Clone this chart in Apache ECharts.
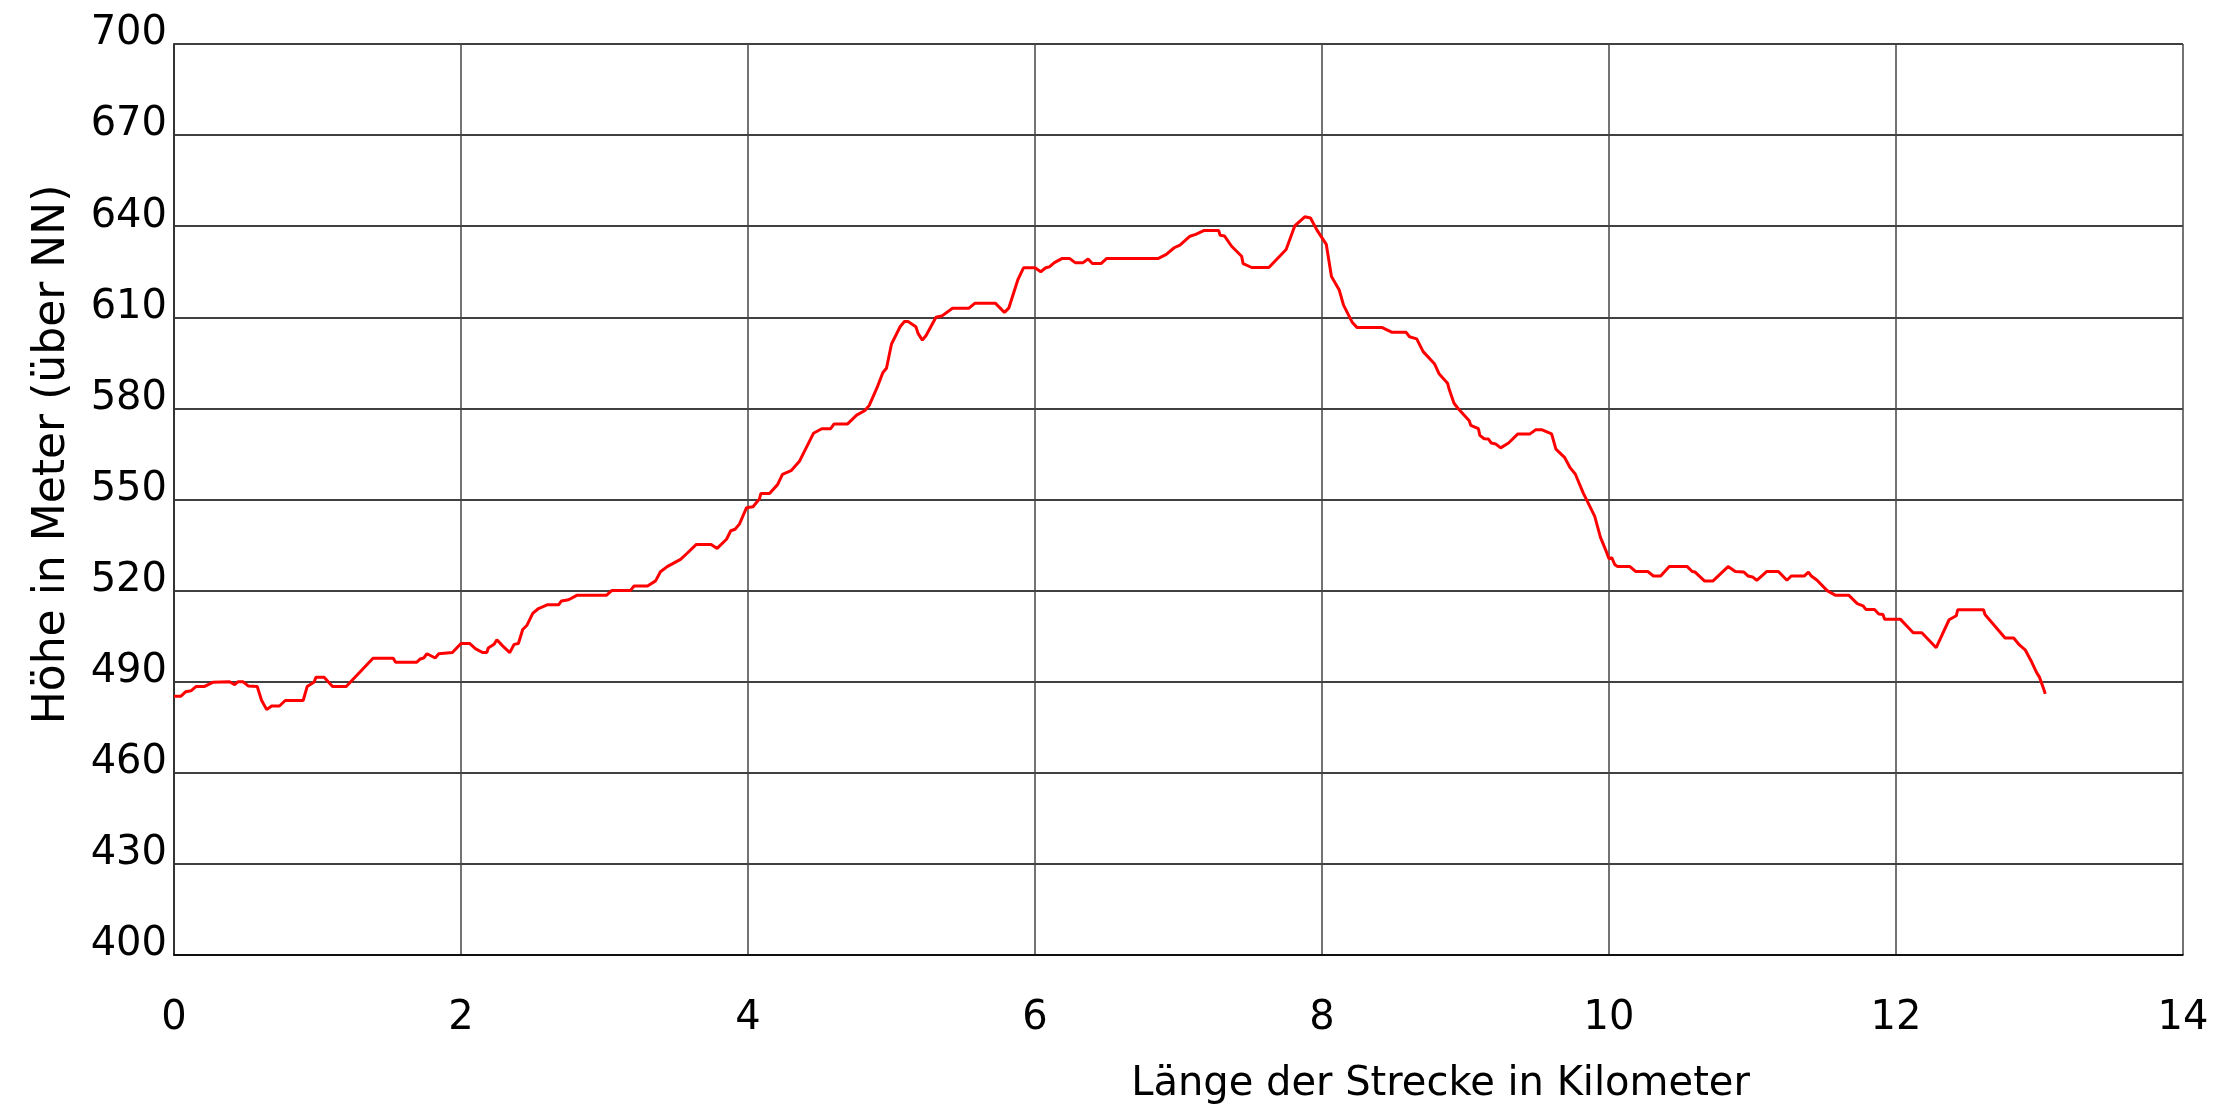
<!DOCTYPE html>
<html>
<head>
<meta charset="utf-8">
<script src="https://cdn.jsdelivr.net/npm/echarts@6/dist/echarts.min.js"></script>
<style>
html,body{margin:0;padding:0;background:#fff;}
#chart{width:2216px;height:1106px;}
</style>
</head>
<body>
<div id="chart"></div>
<script>
// Distance along the route (km) and elevation (m above NN)
const distanceKm = [
  0, 0.047, 0.082, 0.118, 0.153, 0.21, 0.27, 0.388, 0.423, 0.447, 0.48, 0.517, 0.58, 0.61, 0.646, 0.68, 0.735, 0.775, 0.9, 0.928,
  0.975, 0.99, 1.046, 1.105, 1.2, 1.387, 1.528, 1.544, 1.692, 1.716, 1.74, 1.763, 1.82, 1.845, 1.94, 2.0, 2.06, 2.1, 2.15, 2.18,
  2.19, 2.23, 2.25, 2.29, 2.34, 2.37, 2.4, 2.43, 2.46, 2.5, 2.54, 2.6, 2.68, 2.7, 2.75, 2.81, 3.015, 3.05, 3.18, 3.206,
  3.3, 3.356, 3.39, 3.437, 3.53, 3.576, 3.64, 3.743, 3.785, 3.85, 3.88, 3.91, 3.94, 3.99, 4.035, 4.08, 4.09, 4.15, 4.206, 4.24,
  4.3, 4.36, 4.456, 4.514, 4.576, 4.6, 4.694, 4.757, 4.815, 4.845, 4.9, 4.94, 4.965, 5.0, 5.06, 5.09, 5.115, 5.17, 5.185, 5.215,
  5.24, 5.31, 5.35, 5.425, 5.54, 5.58, 5.725, 5.787, 5.817, 5.88, 5.92, 6.0, 6.04, 6.075, 6.1, 6.135, 6.19, 6.24, 6.28, 6.335,
  6.37, 6.4, 6.46, 6.5, 6.86, 6.915, 6.97, 7.01, 7.08, 7.12, 7.18, 7.28, 7.29, 7.32, 7.37, 7.44, 7.45, 7.51, 7.63, 7.75,
  7.81, 7.88, 7.92, 7.965, 8.03, 8.066, 8.12, 8.15, 8.21, 8.245, 8.42, 8.485, 8.585, 8.61, 8.66, 8.705, 8.785, 8.817, 8.875, 8.885,
  8.92, 8.95, 9.026, 9.037, 9.09, 9.1, 9.13, 9.16, 9.18, 9.21, 9.245, 9.3, 9.365, 9.45, 9.49, 9.53, 9.6, 9.63, 9.69, 9.73,
  9.765, 9.82, 9.9, 9.94, 9.98, 10.0, 10.02, 10.04, 10.06, 10.146, 10.185, 10.27, 10.31, 10.36, 10.42, 10.545, 10.58, 10.6, 10.665, 10.725,
  10.83, 10.88, 10.94, 10.97, 11.0, 11.03, 11.1, 11.18, 11.24, 11.27, 11.36, 11.39, 11.41, 11.45, 11.52, 11.576, 11.67, 11.73, 11.77, 11.79,
  11.85, 11.88, 11.91, 11.92, 12.03, 12.12, 12.18, 12.28, 12.37, 12.42, 12.43, 12.61, 12.62, 12.76, 12.82, 12.86, 12.9, 12.94, 12.98, 13.0,
  13.03, 13.04
];
const elevationM = [
  485.2, 485.2, 486.7, 487, 488.4, 488.4, 489.8, 490, 489, 490, 490, 488.6, 488.4, 483.9, 480.8, 482, 482, 483.8, 483.8, 488.4,
  489.8, 491.5, 491.5, 488.4, 488.4, 497.7, 497.7, 496.4, 496.4, 497.5, 497.8, 499.2, 497.8, 499.2, 499.6, 502.6, 502.6, 500.9, 499.6, 499.6,
  501.1, 502.3, 503.8, 501.8, 499.6, 502.3, 502.6, 507.2, 508.6, 512.5, 514.1, 515.3, 515.3, 516.6, 517, 518.5, 518.5, 520, 520, 521.5,
  521.5, 523.2, 526.2, 527.9, 530.3, 532.3, 535.2, 535.2, 533.9, 536.9, 539.7, 540.2, 541.9, 547.3, 547.6, 550.2, 552, 552, 554.9, 558.3,
  559.5, 562.7, 571.8, 573.3, 573.3, 574.9, 574.9, 577.8, 579.3, 581, 586.9, 591.8, 593.2, 601.2, 606.9, 608.6, 608.6, 606.9, 604.7, 602.5,
  603.9, 610, 610.4, 613, 613, 614.6, 614.6, 611.6, 613, 622.3, 626.3, 626.3, 625, 626.3, 626.6, 628, 629.4, 629.4, 628, 628,
  629.2, 627.7, 627.7, 629.4, 629.4, 630.7, 632.9, 633.8, 636.7, 637.3, 638.6, 638.6, 637, 636.8, 633.4, 630.1, 627.7, 626.4, 626.4, 632.3,
  640.1, 643.1, 642.7, 638.7, 634, 623.4, 619, 614, 608.4, 606.6, 606.6, 605.1, 605.1, 603.6, 602.9, 598.7, 594.6, 591.3, 588.3, 586.5,
  581.7, 579.9, 575.9, 574.4, 573.3, 571.1, 570, 569.9, 568.6, 568.3, 567, 568.6, 571.6, 571.6, 573, 573, 571.6, 566.6, 563.9, 560.4,
  558.4, 552.2, 544.5, 537.6, 533, 530.5, 530.8, 528.6, 527.9, 527.9, 526.3, 526.3, 524.8, 524.8, 527.9, 527.9, 526.3, 526.1, 523.2, 523.2,
  527.9, 526.3, 526.1, 524.8, 524.5, 523.4, 526.3, 526.3, 523.4, 524.8, 524.8, 526.1, 524.8, 523.4, 520, 518.5, 518.5, 515.7, 515, 513.8,
  513.8, 512.3, 512.1, 510.6, 510.6, 506.1, 506.1, 501.2, 510.4, 511.7, 513.7, 513.7, 512.1, 504.4, 504.4, 502.1, 500.5, 497, 493, 491.5,
  487.5, 486
];
const xAxisTitle = 'Länge der Strecke in Kilometer';
const yAxisTitle = 'Höhe in Meter (über NN)';

const FONT = 'DejaVu Sans';
const chart = echarts.init(document.getElementById('chart'), null, {renderer: 'canvas'});
chart.setOption({
  animation: false,
  backgroundColor: '#ffffff',
  grid: {left: 174, right: 33, top: 44, bottom: 151, containLabel: false, outerBoundsMode: 'none'},
  xAxis: {
    type: 'value', min: 0, max: 14, interval: 2,
    name: xAxisTitle, nameLocation: 'middle', nameGap: 110,
    nameTextStyle: {fontFamily: FONT, fontSize: 40, color: '#000', padding: [0, 0, 0, 524]},
    axisLine: {show: true, onZero: false, lineStyle: {color: '#000', width: 1.5}},
    axisTick: {show: false},
    axisLabel: {fontFamily: FONT, fontSize: 40, color: '#000', margin: 44},
    splitLine: {show: true, lineStyle: {color: '#444', width: 1.5}}
  },
  yAxis: {
    type: 'value', min: 400, max: 700, interval: 30,
    name: yAxisTitle, nameLocation: 'middle', nameGap: 99, nameRotate: 90,
    nameTextStyle: {fontFamily: FONT, fontSize: 44, color: '#000', padding: [0, 0, 0, 90]},
    axisLine: {show: true, lineStyle: {color: '#333', width: 2}},
    axisTick: {show: false},
    axisLabel: {fontFamily: FONT, fontSize: 40, color: '#000', margin: 7, verticalAlign: 'bottom', lineHeight: 20},
    splitLine: {show: true, lineStyle: {color: '#000', width: 1.5}}
  },
  series: [{
    type: 'line',
    data: distanceKm.map((d, i) => [d, elevationM[i]]),
    showSymbol: false,
    symbol: 'none',
    lineStyle: {color: '#ff0000', width: 3},
    itemStyle: {color: '#ff0000'}
  }]
});
</script>
</body>
</html>
